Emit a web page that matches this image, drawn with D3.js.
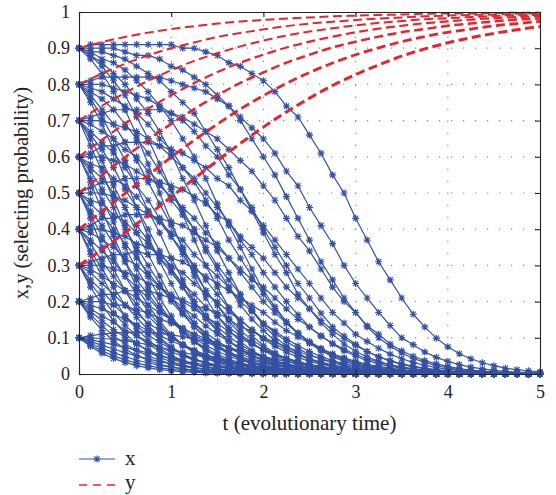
<!DOCTYPE html>
<html><head><meta charset="utf-8">
<script src="https://cdn.jsdelivr.net/npm/d3@7"></script>
<style>body{margin:0;background:#fff} svg{display:block} text{font-family:"Liberation Serif","Times New Roman",Times,serif}</style>
</head><body><svg id="c" width="556" height="495"></svg>
<script>
const tValues = [0,0.25,0.5,0.75,1,1.25,1.5,1.75,2,2.25,2.5,2.75,3,3.25,3.5,3.75,4,4.25,4.5,4.75,5];
const tHalf = [0.125,0.375,0.625,0.875,1.125,1.375,1.625,1.875,2.125,2.375,2.625,2.875,3.125,3.375,3.625,3.875,4.125,4.375,4.625,4.875];
const x0Values = [0.9,0.8,0.7,0.6,0.5,0.4,0.3,0.2,0.1];
const y0Values = [0.3,0.4,0.5,0.6,0.7,0.8,0.9];
const xTicks = [0,1,2,3,4,5];
const yTicks = [0,0.1,0.2,0.3,0.4,0.5,0.6,0.7,0.8,0.9,1];

// x(t) read at t = 0, 0.25, ... 5 ; one row per x0 (0.9 ... 0.1), grouped by y0
const xWhenY03 = [
 [.90,.91,.91,.91,.91,.90,.88,.85,.81,.74,.66,.55,.43,.31,.21,.13,.075,.042,.023,.012,.006],
 [.80,.82,.82,.82,.81,.79,.76,.71,.65,.56,.46,.36,.25,.17,.10,.061,.035,.019,.010,.005,.003],
 [.70,.72,.73,.73,.72,.69,.65,.59,.52,.43,.34,.24,.17,.11,.064,.037,.021,.011,.006,.003,.002],
 [.60,.63,.64,.64,.62,.59,.54,.48,.41,.33,.25,.17,.11,.071,.042,.024,.013,.007,.004,.002,.001],
 [.50,.53,.54,.54,.52,.49,.44,.38,.32,.24,.18,.12,.079,.048,.028,.016,.009,.005,.003,.001,.001],
 [.40,.43,.44,.44,.42,.39,.35,.29,.24,.18,.13,.085,.054,.033,.019,.011,.006,.003,.002,.001,0],
 [.30,.32,.33,.33,.32,.29,.25,.21,.17,.12,.085,.056,.035,.021,.012,.007,.004,.002,.001,.001,0],
 [.20,.22,.23,.23,.21,.19,.17,.13,.10,.075,.051,.033,.021,.013,.007,.004,.002,.001,.001,0,0],
 [.10,.11,.115,.115,.108,.097,.081,.065,.049,.035,.024,.015,.009,.006,.003,.002,.001,.001,0,0,0]
];
const xWhenY04 = [
 [.90,.90,.89,.88,.85,.82,.77,.70,.60,.49,.37,.26,.17,.10,.058,.032,.017,.009,.005,.002,.001],
 [.80,.80,.78,.76,.72,.67,.60,.51,.40,.30,.21,.13,.082,.047,.026,.014,.008,.004,.002,.001,.001],
 [.70,.70,.68,.65,.60,.54,.46,.37,.28,.20,.13,.083,.049,.028,.016,.008,.004,.002,.001,.001,0],
 [.60,.60,.58,.54,.49,.43,.36,.28,.20,.14,.090,.055,.032,.018,.010,.005,.003,.002,.001,0,0],
 [.50,.50,.48,.44,.39,.33,.27,.20,.14,.097,.062,.037,.022,.012,.007,.004,.002,.001,.001,0,0],
 [.40,.40,.38,.35,.30,.25,.20,.15,.10,.067,.042,.025,.015,.008,.005,.002,.001,.001,0,0,0],
 [.30,.30,.28,.25,.22,.18,.14,.099,.068,.044,.027,.016,.009,.005,.003,.002,.001,0,0,0,0],
 [.20,.20,.19,.17,.14,.11,.084,.060,.041,.026,.016,.010,.006,.003,.002,.001,.001,0,0,0,0],
 [.10,.098,.092,.081,.067,.053,.039,.028,.019,.012,.007,.004,.002,.001,.001,0,0,0,0,0,0]
];
const xWhenY05 = [
 [.90,.89,.87,.83,.78,.72,.62,.51,.39,.28,.18,.11,.063,.035,.019,.010,.005,.003,.001,.001,0],
 [.80,.78,.74,.69,.62,.53,.43,.32,.22,.14,.088,.051,.029,.016,.008,.004,.002,.001,.001,0,0],
 [.70,.67,.62,.56,.48,.40,.30,.22,.14,.090,.054,.031,.017,.009,.005,.003,.001,.001,0,0,0],
 [.60,.57,.52,.45,.38,.30,.22,.15,.097,.060,.035,.020,.011,.006,.003,.002,.001,0,0,0,0],
 [.50,.47,.42,.36,.29,.22,.16,.105,.067,.041,.024,.013,.007,.004,.002,.001,.001,0,0,0,0],
 [.40,.37,.32,.27,.21,.16,.11,.073,.046,.028,.016,.009,.005,.003,.001,.001,0,0,0,0,0],
 [.30,.27,.23,.19,.15,.107,.074,.048,.030,.018,.010,.006,.003,.002,.001,0,0,0,0,0,0],
 [.20,.18,.15,.12,.092,.065,.044,.029,.018,.011,.006,.003,.002,.001,0,0,0,0,0,0,0],
 [.10,.088,.073,.058,.043,.030,.020,.013,.008,.005,.003,.001,.001,0,0,0,0,0,0,0,0]
];
const xWhenY06 = [
 [.90,.87,.84,.78,.70,.60,.47,.35,.23,.145,.085,.048,.026,.014,.007,.004,.002,.001,0,0,0],
 [.80,.76,.69,.61,.51,.40,.29,.19,.12,.070,.040,.022,.012,.006,.003,.002,.001,0,0,0,0],
 [.70,.64,.57,.48,.38,.28,.19,.12,.073,.042,.024,.013,.007,.004,.002,.001,.001,0,0,0,0],
 [.60,.54,.46,.37,.28,.20,.13,.081,.048,.028,.015,.008,.004,.002,.001,.001,0,0,0,0,0],
 [.50,.44,.36,.28,.21,.14,.091,.056,.033,.019,.010,.006,.003,.002,.001,0,0,0,0,0,0],
 [.40,.34,.27,.21,.15,.099,.063,.038,.022,.013,.007,.004,.002,.001,.001,0,0,0,0,0,0],
 [.30,.25,.19,.14,.10,.066,.041,.025,.014,.008,.004,.002,.001,.001,0,0,0,0,0,0,0],
 [.20,.16,.12,.089,.061,.039,.024,.015,.008,.005,.003,.001,.001,0,0,0,0,0,0,0,0],
 [.10,.079,.059,.042,.028,.018,.011,.007,.004,.002,.001,.001,0,0,0,0,0,0,0,0,0]
];
const xWhenY07 = [
 [.90,.86,.80,.72,.61,.48,.34,.22,.135,.077,.042,.022,.012,.006,.003,.002,.001,0,0,0,0],
 [.80,.73,.64,.53,.41,.29,.19,.11,.065,.036,.019,.010,.005,.003,.001,.001,0,0,0,0,0],
 [.70,.62,.51,.40,.29,.19,.12,.069,.039,.021,.011,.006,.003,.002,.001,0,0,0,0,0,0],
 [.60,.51,.40,.30,.20,.13,.079,.046,.025,.014,.007,.004,.002,.001,.001,0,0,0,0,0,0],
 [.50,.41,.31,.22,.147,.091,.054,.031,.017,.009,.005,.003,.001,.001,0,0,0,0,0,0,0],
 [.40,.31,.23,.16,.103,.063,.037,.021,.011,.006,.003,.002,.001,0,0,0,0,0,0,0,0],
 [.30,.23,.16,.108,.069,.041,.024,.014,.007,.004,.002,.001,.001,0,0,0,0,0,0,0,0],
 [.20,.147,.101,.066,.041,.025,.014,.008,.004,.002,.001,.001,0,0,0,0,0,0,0,0,0],
 [.10,.071,.048,.031,.019,.011,.006,.003,.002,.001,.001,0,0,0,0,0,0,0,0,0,0]
];
const xWhenY08 = [
 [.90,.85,.77,.65,.51,.37,.24,.14,.079,.042,.022,.011,.006,.003,.002,.001,0,0,0,0,0],
 [.80,.71,.59,.45,.32,.20,.12,.068,.037,.019,.010,.005,.003,.001,.001,0,0,0,0,0,0],
 [.70,.59,.46,.33,.21,.13,.074,.041,.022,.011,.006,.003,.002,.001,0,0,0,0,0,0,0],
 [.60,.48,.35,.24,.149,.088,.049,.027,.014,.007,.004,.002,.001,.001,0,0,0,0,0,0,0],
 [.50,.38,.27,.173,.105,.060,.033,.018,.009,.005,.003,.001,.001,0,0,0,0,0,0,0,0],
 [.40,.29,.19,.122,.072,.041,.022,.012,.006,.003,.002,.001,0,0,0,0,0,0,0,0,0],
 [.30,.21,.135,.082,.048,.027,.015,.008,.004,.002,.001,.001,0,0,0,0,0,0,0,0,0],
 [.20,.133,.083,.050,.028,.016,.009,.005,.002,.001,.001,0,0,0,0,0,0,0,0,0,0],
 [.10,.064,.039,.023,.013,.007,.004,.002,.001,.001,0,0,0,0,0,0,0,0,0,0,0]
];
const xWhenY09 = [
 [.90,.83,.73,.58,.42,.27,.16,.090,.047,.024,.012,.006,.003,.002,.001,0,0,0,0,0,0],
 [.80,.69,.54,.38,.25,.14,.079,.042,.022,.011,.006,.003,.001,.001,0,0,0,0,0,0,0],
 [.70,.56,.41,.27,.16,.089,.048,.025,.013,.006,.003,.002,.001,0,0,0,0,0,0,0,0],
 [.60,.45,.31,.19,.109,.059,.031,.016,.008,.004,.002,.001,.001,0,0,0,0,0,0,0,0],
 [.50,.35,.23,.135,.075,.040,.021,.011,.006,.003,.001,.001,0,0,0,0,0,0,0,0,0],
 [.40,.27,.16,.094,.051,.027,.014,.007,.004,.002,.001,0,0,0,0,0,0,0,0,0,0],
 [.30,.19,.112,.063,.034,.018,.009,.005,.002,.001,.001,0,0,0,0,0,0,0,0,0,0],
 [.20,.12,.069,.038,.020,.010,.005,.003,.001,.001,0,0,0,0,0,0,0,0,0,0,0],
 [.10,.057,.032,.017,.009,.005,.002,.001,.001,0,0,0,0,0,0,0,0,0,0,0,0]
];

// x(t) read at the in-between marker times t = 0.125, 0.375, ... 4.875
const xHalfY03 = [
 [.91,.91,.91,.91,.90,.89,.86,.83,.78,.71,.61,.50,.37,.26,.165,.099,.056,.031,.016,.009],
 [.81,.82,.82,.82,.80,.78,.74,.68,.61,.52,.41,.30,.21,.134,.081,.046,.026,.014,.007,.004],
 [.71,.73,.73,.73,.71,.67,.62,.56,.48,.38,.29,.20,.133,.083,.049,.028,.015,.008,.004,.002],
 [.61,.63,.64,.63,.61,.57,.52,.45,.37,.29,.21,.141,.090,.055,.032,.018,.010,.005,.003,.001],
 [.515,.53,.54,.53,.51,.47,.42,.35,.28,.21,.148,.098,.062,.037,.022,.012,.007,.004,.002,.001],
 [.41,.43,.44,.43,.41,.37,.32,.26,.21,.151,.104,.068,.042,.025,.014,.008,.004,.002,.001,.001],
 [.31,.33,.34,.33,.31,.27,.23,.19,.143,.102,.069,.045,.027,.016,.009,.005,.003,.002,.001,0],
 [.21,.22,.23,.22,.205,.18,.151,.119,.089,.062,.042,.027,.016,.010,.005,.003,.002,.001,.001,0],
 [.106,.113,.116,.112,.103,.089,.073,.057,.041,.029,.019,.012,.007,.004,.002,.001,.001,0,0,0]
];
const xHalfY04 = [
 [.90,.90,.88,.87,.84,.80,.74,.65,.55,.43,.31,.21,.130,.077,.043,.023,.012,.006,.003,.002],
 [.80,.79,.77,.74,.70,.63,.55,.46,.35,.25,.168,.105,.062,.036,.020,.011,.006,.003,.002,.001],
 [.70,.69,.67,.63,.57,.50,.42,.33,.24,.164,.106,.064,.037,.021,.012,.006,.003,.002,.001,0],
 [.60,.59,.56,.52,.46,.39,.32,.24,.169,.112,.071,.042,.024,.014,.007,.004,.002,.001,.001,0],
 [.50,.49,.46,.42,.37,.30,.24,.173,.119,.078,.048,.029,.016,.009,.005,.003,.001,.001,0,0],
 [.40,.39,.36,.33,.28,.22,.171,.122,.083,.053,.033,.019,.011,.006,.003,.002,.001,0,0,0],
 [.30,.29,.27,.24,.20,.157,.117,.082,.055,.035,.021,.013,.007,.004,.002,.001,.001,0,0,0],
 [.20,.19,.176,.153,.126,.098,.072,.050,.033,.021,.013,.007,.004,.002,.001,.001,0,0,0,0],
 [.10,.096,.087,.074,.060,.046,.033,.023,.015,.009,.006,.003,.002,.001,.001,0,0,0,0,0]
];
const xHalfY05 = [
 [.89,.88,.85,.81,.75,.67,.57,.45,.33,.22,.141,.083,.047,.025,.014,.007,.004,.002,.001,0],
 [.79,.76,.72,.65,.57,.48,.37,.27,.18,.114,.068,.039,.021,.011,.006,.003,.002,.001,0,0],
 [.69,.65,.60,.53,.44,.35,.26,.177,.114,.070,.041,.023,.013,.007,.004,.002,.001,0,0,0],
 [.58,.54,.49,.42,.34,.26,.182,.122,.077,.046,.027,.015,.008,.004,.002,.001,.001,0,0,0],
 [.48,.44,.39,.32,.25,.186,.129,.084,.052,.031,.018,.010,.005,.003,.002,.001,0,0,0,0],
 [.39,.35,.30,.24,.184,.133,.090,.058,.036,.021,.012,.007,.004,.002,.001,.001,0,0,0,0],
 [.29,.25,.21,.169,.127,.089,.060,.038,.023,.014,.008,.004,.002,.001,.001,0,0,0,0,0],
 [.19,.166,.136,.106,.078,.054,.036,.023,.014,.008,.005,.003,.001,.001,0,0,0,0,0,0],
 [.095,.081,.066,.050,.036,.025,.016,.010,.006,.004,.002,.001,.001,0,0,0,0,0,0,0]
];
const xHalfY06 = [
 [.89,.86,.81,.74,.65,.54,.41,.29,.186,.112,.064,.035,.019,.010,.005,.003,.001,.001,0,0],
 [.78,.73,.65,.56,.45,.34,.24,.152,.092,.053,.029,.016,.008,.004,.002,.001,.001,0,0,0],
 [.67,.61,.52,.43,.33,.23,.153,.095,.056,.032,.017,.009,.005,.003,.001,.001,0,0,0,0],
 [.57,.50,.41,.32,.24,.162,.104,.063,.037,.021,.011,.006,.003,.002,.001,0,0,0,0,0],
 [.47,.40,.32,.24,.172,.114,.072,.043,.025,.014,.008,.004,.002,.001,.001,0,0,0,0,0],
 [.37,.31,.24,.176,.122,.079,.049,.029,.017,.009,.005,.003,.001,.001,0,0,0,0,0,0],
 [.28,.22,.169,.121,.082,.052,.032,.019,.011,.006,.003,.002,.001,0,0,0,0,0,0,0],
 [.18,.143,.106,.074,.049,.031,.019,.011,.006,.004,.002,.001,.001,0,0,0,0,0,0,0],
 [.090,.069,.050,.034,.023,.014,.009,.005,.003,.002,.001,0,0,0,0,0,0,0,0,0]
];
const xHalfY07 = [
 [.88,.83,.76,.67,.54,.41,.28,.175,.103,.057,.031,.016,.008,.004,.002,.001,.001,0,0,0],
 [.77,.69,.59,.47,.35,.23,.146,.086,.048,.026,.014,.007,.004,.002,.001,0,0,0,0,0],
 [.66,.57,.46,.34,.24,.151,.091,.052,.029,.016,.008,.004,.002,.001,.001,0,0,0,0,0],
 [.56,.46,.35,.25,.165,.103,.060,.034,.019,.010,.005,.003,.001,.001,0,0,0,0,0,0],
 [.45,.36,.26,.181,.117,.071,.041,.023,.013,.007,.004,.002,.001,0,0,0,0,0,0,0],
 [.36,.27,.193,.129,.081,.048,.028,.016,.008,.004,.002,.001,.001,0,0,0,0,0,0,0],
 [.26,.193,.133,.087,.054,.032,.018,.010,.005,.003,.002,.001,0,0,0,0,0,0,0,0],
 [.173,.123,.082,.052,.032,.019,.011,.006,.003,.002,.001,0,0,0,0,0,0,0,0,0],
 [.085,.059,.038,.024,.014,.008,.005,.003,.001,.001,0,0,0,0,0,0,0,0,0,0]
];
const xHalfY08 = [
 [.88,.81,.71,.58,.44,.30,.184,.106,.058,.031,.016,.008,.004,.002,.001,0,0,0,0,0],
 [.76,.65,.52,.39,.26,.158,.091,.050,.027,.014,.007,.004,.002,.001,0,0,0,0,0,0],
 [.65,.52,.39,.27,.168,.099,.055,.030,.016,.008,.004,.002,.001,0,0,0,0,0,0,0],
 [.54,.42,.29,.19,.115,.066,.036,.019,.010,.005,.003,.001,.001,0,0,0,0,0,0,0],
 [.44,.32,.22,.135,.080,.045,.025,.013,.007,.004,.002,.001,0,0,0,0,0,0,0,0],
 [.34,.24,.156,.095,.055,.030,.017,.009,.005,.002,.001,.001,0,0,0,0,0,0,0,0],
 [.25,.169,.106,.063,.036,.020,.011,.006,.003,.002,.001,0,0,0,0,0,0,0,0,0],
 [.164,.106,.065,.038,.021,.012,.006,.003,.002,.001,0,0,0,0,0,0,0,0,0,0],
 [.080,.050,.030,.017,.010,.005,.003,.002,.001,0,0,0,0,0,0,0,0,0,0,0]
];
const xHalfY09 = [
 [.87,.78,.66,.50,.345,.21,.121,.065,.034,.017,.009,.004,.002,.001,0,0,0,0,0,0],
 [.75,.62,.46,.31,.19,.107,.058,.030,.015,.008,.004,.002,.001,0,0,0,0,0,0,0],
 [.63,.48,.33,.21,.120,.066,.035,.018,.009,.005,.002,.001,0,0,0,0,0,0,0,0],
 [.53,.38,.24,.145,.081,.043,.022,.012,.006,.003,.001,.001,0,0,0,0,0,0,0,0],
 [.43,.29,.177,.101,.055,.029,.015,.008,.004,.002,.001,0,0,0,0,0,0,0,0,0],
 [.33,.21,.125,.070,.038,.020,.010,.005,.003,.001,.001,0,0,0,0,0,0,0,0,0],
 [.24,.147,.084,.046,.025,.013,.007,.003,.002,.001,0,0,0,0,0,0,0,0,0,0],
 [.157,.091,.051,.027,.014,.008,.004,.002,.001,0,0,0,0,0,0,0,0,0,0,0],
 [.076,.043,.023,.012,.006,.003,.002,.001,0,0,0,0,0,0,0,0,0,0,0,0]
];

// y(t) curves at t = 0, 0.25, ... 5, one per y0
const yFrom03 = [.300,.344,.391,.439,.489,.540,.589,.637,.682,.724,.762,.797,.827,.854,.878,.898,.915,.929,.941,.951,.960];
const yFrom04 = [.400,.449,.499,.549,.599,.646,.690,.732,.769,.803,.833,.859,.882,.901,.918,.932,.944,.953,.962,.968,.974];
const yFrom05 = [.500,.550,.599,.647,.691,.732,.770,.804,.833,.860,.882,.902,.918,.932,.944,.953,.962,.968,.974,.979,.982];
const yFrom06 = [.600,.647,.692,.733,.770,.804,.834,.860,.882,.902,.918,.932,.944,.954,.962,.969,.974,.979,.983,.986,.988];
const yFrom07 = [.700,.741,.777,.810,.839,.865,.886,.905,.921,.935,.946,.955,.963,.970,.975,.980,.983,.986,.989,.991,.992];
const yFrom08 = [.800,.830,.857,.880,.900,.916,.931,.942,.952,.961,.968,.973,.978,.982,.985,.988,.990,.992,.993,.995,.996];
const yFrom09 = [.900,.917,.931,.943,.953,.961,.968,.974,.978,.982,.985,.988,.990,.992,.993,.995,.996,.996,.997,.998,.998];

const xGroups = [xWhenY03,xWhenY04,xWhenY05,xWhenY06,xWhenY07,xWhenY08,xWhenY09];
const xHalfGroups = [xHalfY03,xHalfY04,xHalfY05,xHalfY06,xHalfY07,xHalfY08,xHalfY09];
const yCurves = [yFrom03,yFrom04,yFrom05,yFrom06,yFrom07,yFrom08,yFrom09];
const redWidths = [3,2.8,2.5,2.2,2,2,2];

const BLUE = '#3451a3', RED = '#e8232b', INK = '#222';
const FONT = '"Liberation Serif","Times New Roman",Times,serif';
const L = 79, R = 540, T = 12, B = 374;
const svg = d3.select('#c');
const x = d3.scaleLinear().domain([0,5]).range([L,R]);
const y = d3.scaleLinear().domain([0,1]).range([B,T]);

// grid
const grid = svg.append('g').attr('stroke','#8a8a8a').attr('stroke-width',1.2).attr('stroke-dasharray','1.2,10.8');
grid.selectAll('.gx').data(xTicks.slice(1,-1)).join('line').attr('class','gx')
  .attr('x1',d=>x(d)).attr('x2',d=>x(d)).attr('y1',B).attr('y2',T);
grid.selectAll('.gy').data(yTicks.slice(1,-1)).join('line').attr('class','gy')
  .attr('x1',L).attr('x2',R).attr('y1',d=>y(d)).attr('y2',d=>y(d));

const star = 'M-3.5,0H3.5M0,-3.5V3.5M-2.6,-2.6L2.6,2.6M-2.6,2.6L2.6,-2.6';
const pointLine = d3.line().x(d=>x(d[0])).y(d=>y(d[1]));
const merge = (full, half) => {
  const out = [];
  full.forEach((v,i) => { out.push([tValues[i], v]); if (i < half.length) out.push([tHalf[i], half[i]]); });
  return out;
};

const plot = svg.append('g');
xGroups.forEach((group,g) => {
  group.forEach((series,r) => {
    const pts = merge(series, xHalfGroups[g][r]);
    plot.append('path').attr('d', pointLine(pts)).attr('fill','none')
      .attr('stroke',BLUE).attr('stroke-width',1.2);
    plot.append('g').selectAll('path').data(pts).join('path')
      .attr('transform',d=>`translate(${x(d[0])},${y(d[1])})`)
      .attr('d',star).attr('fill','none').attr('stroke',BLUE).attr('stroke-width',1.15);
  });
});
const redLine = d3.line().x((d,i)=>x(tValues[i])).y(d=>y(d)).curve(d3.curveMonotoneX);
yCurves.forEach((series,k) => {
  plot.append('path').attr('d', redLine(series)).attr('fill','none')
    .attr('stroke',RED).attr('stroke-width',redWidths[k]).attr('stroke-dasharray','9,4.5');
});

// axes (box with inward ticks)
const fmt = d => (d===0||d===1) ? String(d) : d.toFixed(1);
const ax = svg.append('g').attr('transform',`translate(0,${B})`)
  .call(d3.axisBottom(x).tickValues(xTicks).tickSizeInner(-5).tickSizeOuter(0).tickPadding(11).tickFormat(d3.format('d')));
const axT = svg.append('g').attr('transform',`translate(0,${T})`)
  .call(d3.axisTop(x).tickValues(xTicks).tickSizeInner(-5).tickSizeOuter(0).tickFormat(''));
const ay = svg.append('g').attr('transform',`translate(${L},0)`)
  .call(d3.axisLeft(y).tickValues(yTicks).tickSizeInner(-5).tickSizeOuter(0).tickPadding(9).tickFormat(fmt));
const ayR = svg.append('g').attr('transform',`translate(${R},0)`)
  .call(d3.axisRight(y).tickValues(yTicks).tickSizeInner(-5).tickSizeOuter(0).tickFormat(''));
[ax,axT,ay,ayR].forEach(g => {
  g.attr('font-family',null);
  g.selectAll('path,line').attr('stroke',INK).attr('stroke-width',1.1);
  g.selectAll('text').style('font-family',FONT).style('font-size','18px').attr('fill',INK);
});

svg.append('text').attr('x',(L+R)/2).attr('y',430).attr('text-anchor','middle')
  .style('font-family',FONT).style('font-size','21px').attr('fill',INK).text('t (evolutionary time)');
svg.append('text').attr('transform',`translate(28,${(T+B)/2}) rotate(-90)`).attr('text-anchor','middle')
  .style('font-family',FONT).style('font-size','20.5px').attr('fill',INK).text('x,y (selecting probability)');

// legend
const lg = svg.append('g');
lg.append('line').attr('x1',79).attr('x2',115).attr('y1',459).attr('y2',459).attr('stroke',BLUE).attr('stroke-width',1.2);
lg.append('path').attr('d',star).attr('transform','translate(97,459)').attr('fill','none').attr('stroke',BLUE).attr('stroke-width',1.1);
lg.append('text').attr('x',125).attr('y',465).style('font-family',FONT).style('font-size','21px').attr('fill',INK).text('x');
lg.append('line').attr('x1',79).attr('x2',115).attr('y1',485).attr('y2',485).attr('stroke',RED).attr('stroke-width',1.4).attr('stroke-dasharray','8,6');
lg.append('text').attr('x',125).attr('y',489).style('font-family',FONT).style('font-size','21px').attr('fill',INK).text('y');
</script></body></html>
